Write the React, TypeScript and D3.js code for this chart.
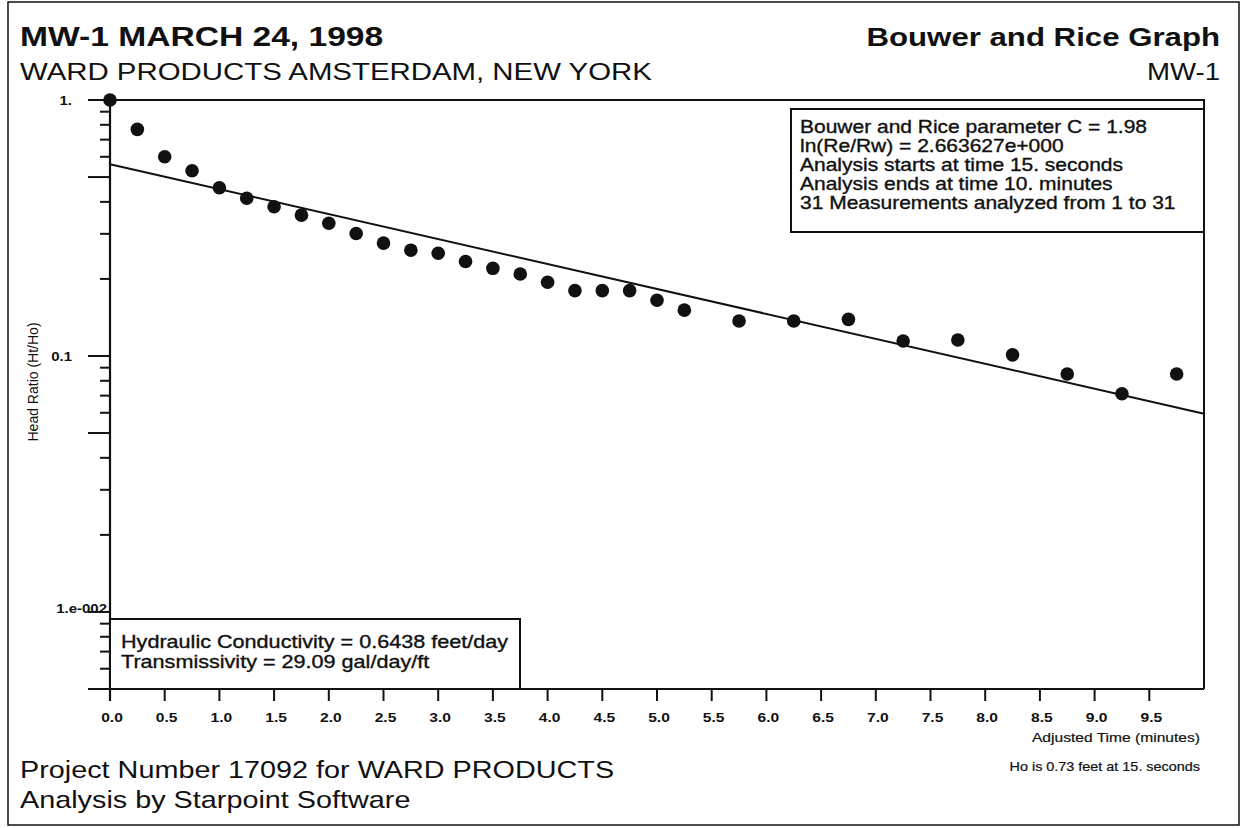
import React from "react";
import * as d3 from "d3";

// Bouwer and Rice slug test, MW-1
const times = [0, 0.25, 0.5, 0.75, 1.0, 1.25, 1.5, 1.75, 2.0, 2.25, 2.5, 2.75, 3.0, 3.25, 3.5, 3.75, 4.0, 4.25, 4.5, 4.75, 5.0, 5.25, 5.75, 6.25, 6.75, 7.25, 7.75, 8.25, 8.75, 9.25, 9.75];
const headRatio = [1.0, 0.768, 0.6, 0.529, 0.454, 0.413, 0.383, 0.355, 0.33, 0.301, 0.276, 0.259, 0.252, 0.234, 0.22, 0.209, 0.194, 0.18, 0.18, 0.18, 0.165, 0.151, 0.137, 0.137, 0.139, 0.1144, 0.1155, 0.101, 0.085, 0.0712, 0.085];

// fitted straight line (time, ratio) at the two ends
const fitLine = [[0, 0.561], [10, 0.0595]];

const xDomain = [0, 10];
const yDomain = [0.005, 1];
const xTickValues = [0, 0.5, 1, 1.5, 2, 2.5, 3, 3.5, 4, 4.5, 5, 5.5, 6, 6.5, 7, 7.5, 8, 8.5, 9, 9.5];
const yLabelValues = [1, 0.1, 0.01];
const yLabelTexts = ["1.", "0.1", "1.e-002"];

const statsLines = [
  "Bouwer and Rice parameter C = 1.98",
  "ln(Re/Rw) = 2.663627e+000",
  "Analysis starts at time 15. seconds",
  "Analysis ends at time 10. minutes",
  "31 Measurements analyzed from 1 to 31",
];
const resultLines = [
  "Hydraulic Conductivity = 0.6438 feet/day",
  "Transmissivity = 29.09 gal/day/ft",
];

const W = 1243, H = 828;
const SX = 1.2; // the scan is a bit wider than tall
const FONT = "'Liberation Sans', Arial, sans-serif";
const INK = "#111";

const addText = (sel, x, y, str, size, weight = "normal", anchor = "start", thick = 0) =>
  sel.append("text")
    .attr("transform", `translate(${x},${y}) scale(${SX},1)`)
    .attr("font-size", size)
    .attr("font-weight", weight)
    .attr("text-anchor", anchor)
    .attr("fill", INK)
    .attr("stroke", thick ? INK : "none")
    .attr("stroke-width", thick)
    .text(str);

const App = () => {
  const ref = React.useRef(null);

  React.useEffect(() => {
    const svg = d3.select(ref.current);
    svg.selectAll("*").remove();
    svg.attr("font-family", FONT);

    const left = 110, right = 1204, top = 100, bottom = 689;
    const x = d3.scaleLinear(xDomain, [left, right]);
    const y = d3.scaleLog(yDomain, [bottom, top]);

    // page border
    svg.append("rect").attr("x", 8).attr("y", 2).attr("width", 1231).attr("height", 823)
      .attr("fill", "none").attr("stroke", INK).attr("stroke-width", 1.5);

    // headings
    addText(svg, 20, 46, "MW-1 MARCH 24, 1998", 28, "bold");
    addText(svg, 20, 80, "WARD PRODUCTS AMSTERDAM, NEW YORK", 24.5);
    addText(svg, 1220, 46, "Bouwer and Rice Graph", 26, "bold", "end");
    addText(svg, 1220, 80, "MW-1", 23, "normal", "end");

    // frame: top and right
    svg.append("path")
      .attr("d", `M${left},${top}H${right}V${bottom}`)
      .attr("fill", "none").attr("stroke", INK).attr("stroke-width", 2);

    // y axis
    const yAxis = svg.append("g");
    yAxis.append("line").attr("x1", left).attr("x2", left).attr("y1", top).attr("y2", bottom + 12)
      .attr("stroke", INK).attr("stroke-width", 2.2);
    y.ticks().forEach(t => {
      const lead = +t.toExponential().charAt(0);
      const long = lead === 1 || lead === 5;
      yAxis.append("line")
        .attr("x1", left - (long ? 22 : 10)).attr("x2", left)
        .attr("y1", y(t)).attr("y2", y(t))
        .attr("stroke", INK).attr("stroke-width", 2);
    });
    yLabelValues.forEach((v, i) => {
      const last = i === yLabelValues.length - 1;
      addText(yAxis, last ? 107 : 72, y(v) + (last ? 1 : 5), yLabelTexts[i], 12.5, "bold", "end");
    });
    svg.append("text")
      .attr("transform", `translate(38,${y(0.1) + 26}) rotate(-90)`)
      .attr("font-size", 14).attr("text-anchor", "middle").attr("fill", INK)
      .text("Head Ratio (Ht/Ho)");

    // x axis
    const xAxis = svg.append("g").attr("transform", `translate(0,${bottom})`);
    xAxis.append("line").attr("x1", left).attr("x2", right).attr("stroke", INK).attr("stroke-width", 2.2);
    xTickValues.forEach(t => {
      xAxis.append("line").attr("x1", x(t)).attr("x2", x(t)).attr("y1", 0).attr("y2", 12)
        .attr("stroke", INK).attr("stroke-width", 2);
      addText(xAxis, x(t) + 2, 33, d3.format(".1f")(t), 13, "bold", "middle");
    });
    addText(svg, 1200, bottom + 53, "Adjusted Time (minutes)", 13, "normal", "end", 0.2);
    addText(svg, 1200, bottom + 82, "Ho is 0.73 feet at 15. seconds", 12, "normal", "end", 0.2);

    // fitted line
    svg.append("path")
      .datum(fitLine)
      .attr("fill", "none").attr("stroke", INK).attr("stroke-width", 2)
      .attr("d", d3.line().x(d => x(d[0])).y(d => y(d[1])));

    // measurements
    svg.append("g").selectAll("circle")
      .data(times.map((t, i) => [t, headRatio[i]]))
      .join("circle")
      .attr("cx", d => x(d[0])).attr("cy", d => y(d[1])).attr("r", 6.8)
      .attr("fill", INK);

    // parameter box
    const sb = svg.append("g");
    sb.append("rect").attr("x", 791).attr("y", 109).attr("width", right - 791).attr("height", 123)
      .attr("fill", "#fff").attr("stroke", INK).attr("stroke-width", 2);
    statsLines.forEach((s, i) => addText(sb, 800, 133 + i * 19, s, 17.5, "normal", "start", 0.35));

    // result box
    const rb = svg.append("g");
    rb.append("rect").attr("x", left).attr("y", 619).attr("width", 410).attr("height", bottom - 619)
      .attr("fill", "#fff").attr("stroke", INK).attr("stroke-width", 2);
    resultLines.forEach((s, i) => addText(rb, 121, 648 + i * 20, s, 18, "normal", "start", 0.35));

    // footer
    addText(svg, 20, 778, "Project Number 17092 for WARD PRODUCTS", 24);
    addText(svg, 20, 808, "Analysis by Starpoint Software", 24);
  }, []);

  return (
    <svg ref={ref} width={W} height={H}
      style={{ position: "absolute", left: 0, top: 0, display: "block", background: "#fff" }} />
  );
};

export default App;
